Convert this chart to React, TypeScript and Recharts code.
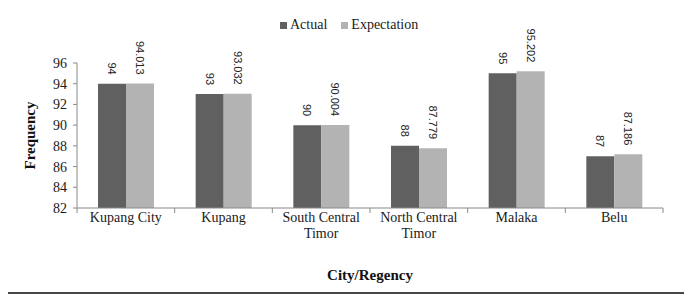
import { BarChart, Bar, XAxis, YAxis, Legend, LabelList, Text } from 'recharts';

const regions = ['Kupang City', 'Kupang', 'South Central Timor', 'North Central Timor', 'Malaka', 'Belu'];
const actual = [94, 93, 90, 88, 95, 87];
const expectation = [94.013, 93.032, 90.004, 87.779, 95.202, 87.186];
const yTicks = [82, 84, 86, 88, 90, 92, 94, 96];

const data = regions.map((name, i) => ({ name, actual: actual[i], expectation: expectation[i] }));

const serif = '"Liberation Serif", "Times New Roman", serif';
const axisGray = '#8a8a8a';
const darkBar = '#606060';
const lightBar = '#b3b3b3';

// category labels, plus Excel-style tick marks on the band edges
const CategoryTick = (props: any) => {
  const { x, y, payload, index } = props;
  const half = payload.offset || 0;
  return (
    <g>
      <line x1={x - half} x2={x - half} y1={y} y2={y + 5} stroke={axisGray} />
      {index === regions.length - 1 && (
        <line x1={x + half} x2={x + half} y1={y} y2={y + 5} stroke={axisGray} />
      )}
      <Text
        x={x}
        y={y + 4}
        width={92}
        textAnchor='middle'
        verticalAnchor='start'
        lineHeight={16}
        style={{ fontFamily: serif, fontSize: 14, fill: '#1a1a1a' }}
      >
        {payload.value}
      </Text>
    </g>
  );
};

const ValueLabel = (props: any) => {
  const { x, y, width, value } = props;
  const cx = x + width / 2;
  const cy = y - 9;
  return (
    <text
      x={cx}
      y={cy}
      transform={`rotate(90, ${cx}, ${cy})`}
      textAnchor='end'
      dominantBaseline='central'
      style={{ fontFamily: '"Liberation Sans", Arial, sans-serif', fontSize: 11, fill: '#222' }}
    >
      {value}
    </text>
  );
};

const YTitle = (props: any) => {
  const vb = props.viewBox;
  const tx = vb.x + 22;
  const ty = vb.y + vb.height / 2;
  return (
    <text
      x={tx}
      y={ty}
      transform={`rotate(-90, ${tx}, ${ty})`}
      textAnchor='middle'
      dominantBaseline='central'
      style={{ fontFamily: serif, fontSize: 15, fontWeight: 'bold', fill: '#111' }}
    >
      Frequency
    </text>
  );
};

const LegendBox = () => (
  <div style={{ display: 'flex', alignItems: 'center', fontFamily: serif, fontSize: 14, color: '#1a1a1a', lineHeight: '18px' }}>
    <span style={{ width: 7, height: 7, background: darkBar, marginRight: 3 }} />
    <span style={{ marginRight: 14 }}>Actual</span>
    <span style={{ width: 7, height: 7, background: lightBar, marginRight: 3 }} />
    <span>Expectation</span>
  </div>
);

export default function App() {
  return (
    <div
      style={{
        width: 682,
        height: 289,
        boxSizing: 'border-box',
        padding: 2,
        background: '#474747',
        position: 'relative',
        left: -2,
        top: -3,
      }}
    >
      <div style={{ width: 678, height: 285, background: '#fff' }}>
        <BarChart
          width={678}
          height={285}
          data={data}
          margin={{ top: 38, right: 23, bottom: 0, left: 0 }}
          barGap={0}
          barSize={28}
        >
          <Legend
            verticalAlign='top'
            content={LegendBox}
            wrapperStyle={{ top: 9, left: 272, width: 'auto' }}
          />
          <XAxis
            dataKey='name'
            height={84}
            axisLine={{ stroke: axisGray }}
            tickLine={false}
            tickSize={0}
            tickMargin={0}
            interval={0}
            tick={CategoryTick}
            label={{
              value: 'City/Regency',
              position: 'insideBottom',
              offset: 12,
              style: { fontFamily: serif, fontSize: 15, fontWeight: 'bold', fill: '#111' },
            }}
          />
          <YAxis
            width={69}
            domain={[82, 96]}
            ticks={yTicks}
            interval={0}
            allowDataOverflow
            tickSize={4}
            tickMargin={6}
            axisLine={{ stroke: axisGray }}
            tickLine={{ stroke: axisGray }}
            tick={{ fontFamily: serif, fontSize: 14, fill: '#1a1a1a' }}
            label={{ content: YTitle }}
          />
          <Bar dataKey='actual' name='Actual' fill={darkBar} isAnimationActive={false}>
            <LabelList dataKey='actual' content={ValueLabel} />
          </Bar>
          <Bar dataKey='expectation' name='Expectation' fill={lightBar} isAnimationActive={false}>
            <LabelList dataKey='expectation' content={ValueLabel} />
          </Bar>
        </BarChart>
      </div>
    </div>
  );
}
